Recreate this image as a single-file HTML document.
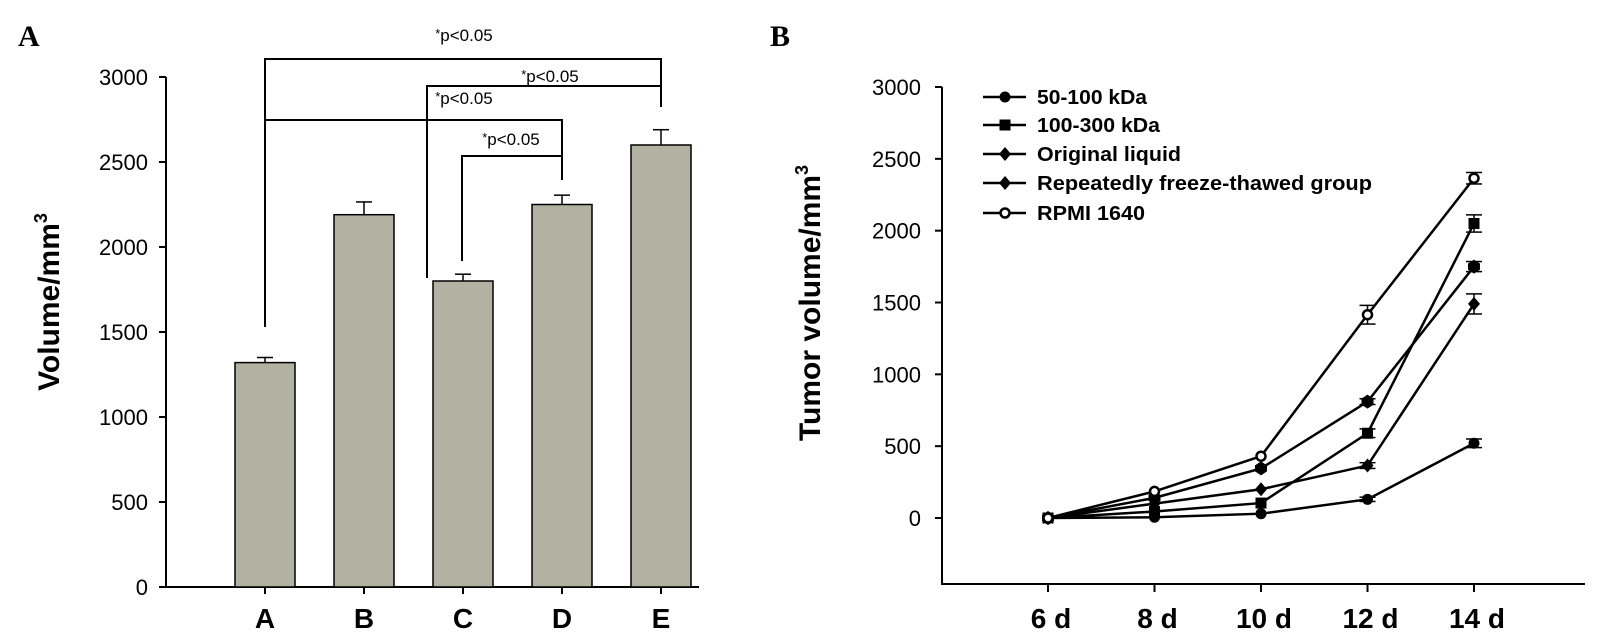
<!DOCTYPE html>
<html><head><meta charset="utf-8"><style>
html,body{margin:0;padding:0;background:#fff}
svg{display:block}
text{font-family:"Liberation Sans",sans-serif}
</style></head><body>
<svg id="fig" width="1599" height="640" viewBox="0 0 1599 640" xmlns="http://www.w3.org/2000/svg">
<text x="18" y="46" font-weight="bold" font-size="30" style="font-family:'Liberation Serif',serif">A</text>
<text x="770" y="46" font-weight="bold" font-size="30" style="font-family:'Liberation Serif',serif">B</text>
<g id="pa"></g>
<g id="pb"></g>
</svg>
<script>
const NS='http://www.w3.org/2000/svg';
// Panel A data
const barCats=['A','B','C','D','E'];
const barVals=[1320,2190,1800,2250,2600];
const barErrs=[30,75,40,55,90];
const aTicks=[0,500,1000,1500,2000,2500,3000];
// Panel B data
const days=['6 d','8 d','10 d','12 d','14 d'];
const seriesNames=['50-100 kDa','100-300 kDa','Original liquid','Repeatedly freeze-thawed  group','RPMI 1640'];
const s50_100=[0,5,30,130,520];
const s100_300=[0,45,104,590,2050];
const sOriginal=[0,100,200,365,1490];
const sRepeated=[0,140,345,810,1750];
const sRPMI=[0,185,430,1415,2365];
const errs50_100=[0,0,0,15,30];
const errs100_300=[0,0,0,30,60];
const errsOriginal=[0,0,0,20,70];
const errsRepeated=[0,0,0,20,35];
const errsRPMI=[0,0,0,65,40];
const bTicks=[0,500,1000,1500,2000,2500,3000];

function mk(p,tag,attrs,txt){const e=document.createElementNS(NS,tag);for(const k in attrs)e.setAttribute(k,attrs[k]);if(txt!==undefined)e.textContent=txt;p.appendChild(e);return e;}

// ---- Panel A
const pa=document.getElementById('pa');
const ay=v=>587-v*0.17;
const ax=i=>265+i*99;
let e;
e=mk(pa,'line',{x1:166,y1:ay(3000),x2:166,y2:588,stroke:'#000','stroke-width':2});

e=mk(pa,'line',{x1:160,y1:587,x2:699,y2:587,stroke:'#000','stroke-width':2});

aTicks.forEach(t=>{
  mk(pa,'line',{x1:159,y1:ay(t),x2:166,y2:ay(t),stroke:'#000','stroke-width':2});
  e=mk(pa,'text',{x:148,y:ay(t)+8,'text-anchor':'end','font-size':22},String(t));
  
});
barCats.forEach((c,i)=>{
  const x=ax(i),top=ay(barVals[i]);
  e=mk(pa,'rect',{x:x-30,y:top,width:60,height:587-top,fill:'#b2b2a2',stroke:'#000','stroke-width':1.5});
  
  const et=ay(barVals[i]+barErrs[i]);
  mk(pa,'line',{x1:x,y1:top,x2:x,y2:et,stroke:'#000','stroke-width':1.5});
  e=mk(pa,'line',{x1:x-8,y1:et,x2:x+8,y2:et,stroke:'#000','stroke-width':1.5});
  
  mk(pa,'line',{x1:x,y1:587,x2:x,y2:594,stroke:'#000','stroke-width':2});
  e=mk(pa,'text',{x:x,y:628,'text-anchor':'middle','font-size':28,'font-weight':'bold'},c);
  
});
e=mk(pa,'text',{x:0,y:0,'text-anchor':'middle','font-size':30,'font-weight':'bold',transform:'translate(59,302) rotate(-90)'});

e.innerHTML='Volume/mm<tspan dy="-12" font-size="18">3</tspan>';
// brackets
const brackets=[
  {x1:ax(0),x2:ax(4),y:59,d1:327,d2:107,lx:464,ly:41},
  {x1:427,x2:ax(4),y:86,d1:278,d2:107,lx:550,ly:82},
  {x1:ax(0),x2:ax(3),y:120,d1:120,d2:180,lx:464,ly:104},
  {x1:462,x2:ax(3),y:156,d1:261,d2:180,lx:511,ly:145}
];
brackets.forEach(b=>{
  e=mk(pa,'polyline',{points:`${b.x1},${b.d1} ${b.x1},${b.y} ${b.x2},${b.y} ${b.x2},${b.d2}`,fill:'none',stroke:'#000','stroke-width':2});
  
  e=mk(pa,'text',{x:b.lx,y:b.ly,'text-anchor':'middle','font-size':17});
  
  e.innerHTML='<tspan font-size="13" dy="-3">*</tspan><tspan dy="3">p&lt;0.05</tspan>';
});

// ---- Panel B
const pb=document.getElementById('pb');
const by=v=>518-v*431/3000;
const bx=i=>1048+i*106.5;
e=mk(pb,'line',{x1:942,y1:by(3000),x2:942,y2:585,stroke:'#000','stroke-width':2});

e=mk(pb,'line',{x1:941,y1:584,x2:1585,y2:584,stroke:'#000','stroke-width':2});

bTicks.forEach(t=>{
  mk(pb,'line',{x1:935,y1:by(t),x2:942,y2:by(t),stroke:'#000','stroke-width':2});
  e=mk(pb,'text',{x:921,y:by(t)+8,'text-anchor':'end','font-size':22},String(t));
  
});
days.forEach((d,i)=>{
  mk(pb,'line',{x1:bx(i),y1:584,x2:bx(i),y2:592,stroke:'#000','stroke-width':2});
  e=mk(pb,'text',{x:bx(i)+3,y:628,'text-anchor':'middle','font-size':28,'font-weight':'bold'},d);
  
});
e=mk(pb,'text',{x:0,y:0,'text-anchor':'middle','font-size':30,'font-weight':'bold',transform:'translate(820,303) rotate(-90)'});

e.innerHTML='Tumor volume/mm<tspan dy="-12" font-size="18">3</tspan>';

const allSeries=[s50_100,s100_300,sOriginal,sRepeated,sRPMI];
const allErrs=[errs50_100,errs100_300,errsOriginal,errsRepeated,errsRPMI];
const shapes=['circle','square','diamond','hexagon','open'];
function marker(g,shape,x,y){
  let m;
  if(shape==='circle')m=mk(g,'circle',{cx:x,cy:y,r:5.5,fill:'#000'});
  else if(shape==='square')m=mk(g,'rect',{x:x-5.5,y:y-5.5,width:11,height:11,fill:'#000'});
  else if(shape==='diamond')m=mk(g,'polygon',{points:`${x},${y-7} ${x+6},${y} ${x},${y+7} ${x-6},${y}`,fill:'#000'});
  else if(shape==='hexagon')m=mk(g,'polygon',{points:`${x},${y-7} ${x+6},${y-3} ${x+6},${y+3} ${x},${y+7} ${x-6},${y+3} ${x-6},${y-3}`,fill:'#000'});
  else m=mk(g,'circle',{cx:x,cy:y,r:4.5,fill:'#fff',stroke:'#000','stroke-width':2.5});
  return m;
}
allSeries.forEach((s,si)=>{
  const g=mk(pb,'g',{});
  
  
  e=mk(g,'polyline',{points:s.map((v,i)=>bx(i)+','+by(v)).join(' '),fill:'none',stroke:'#000','stroke-width':2.5});
  
  s.forEach((v,i)=>{
    const er=allErrs[si][i];
    if(er>0){
      mk(g,'line',{x1:bx(i),y1:by(v-er),x2:bx(i),y2:by(v+er),stroke:'#000','stroke-width':1.5});
      mk(g,'line',{x1:bx(i)-8,y1:by(v+er),x2:bx(i)+8,y2:by(v+er),stroke:'#000','stroke-width':1.5});
      mk(g,'line',{x1:bx(i)-8,y1:by(v-er),x2:bx(i)+8,y2:by(v-er),stroke:'#000','stroke-width':1.5});
    }
    e=marker(g,shapes[si],bx(i),by(v));
    
  });
});
// legend
const lg=mk(pb,'g',{});


const legendY=[97,125,154,183,213];
const legendW=[110,123,144,335,108];
seriesNames.forEach((n,i)=>{
  const y=legendY[i];
  const g=mk(lg,'g',{});
  
  
  mk(g,'line',{x1:983,y1:y,x2:1026,y2:y,stroke:'#000','stroke-width':2.5});
  marker(g,shapes[i]==='hexagon'?'diamond':shapes[i],1005,y);
  mk(g,'text',{x:1037,y:y+7,'font-size':20,'font-weight':'bold',textLength:legendW[i],lengthAdjust:'spacingAndGlyphs'},n);
});
</script>
</body></html>
